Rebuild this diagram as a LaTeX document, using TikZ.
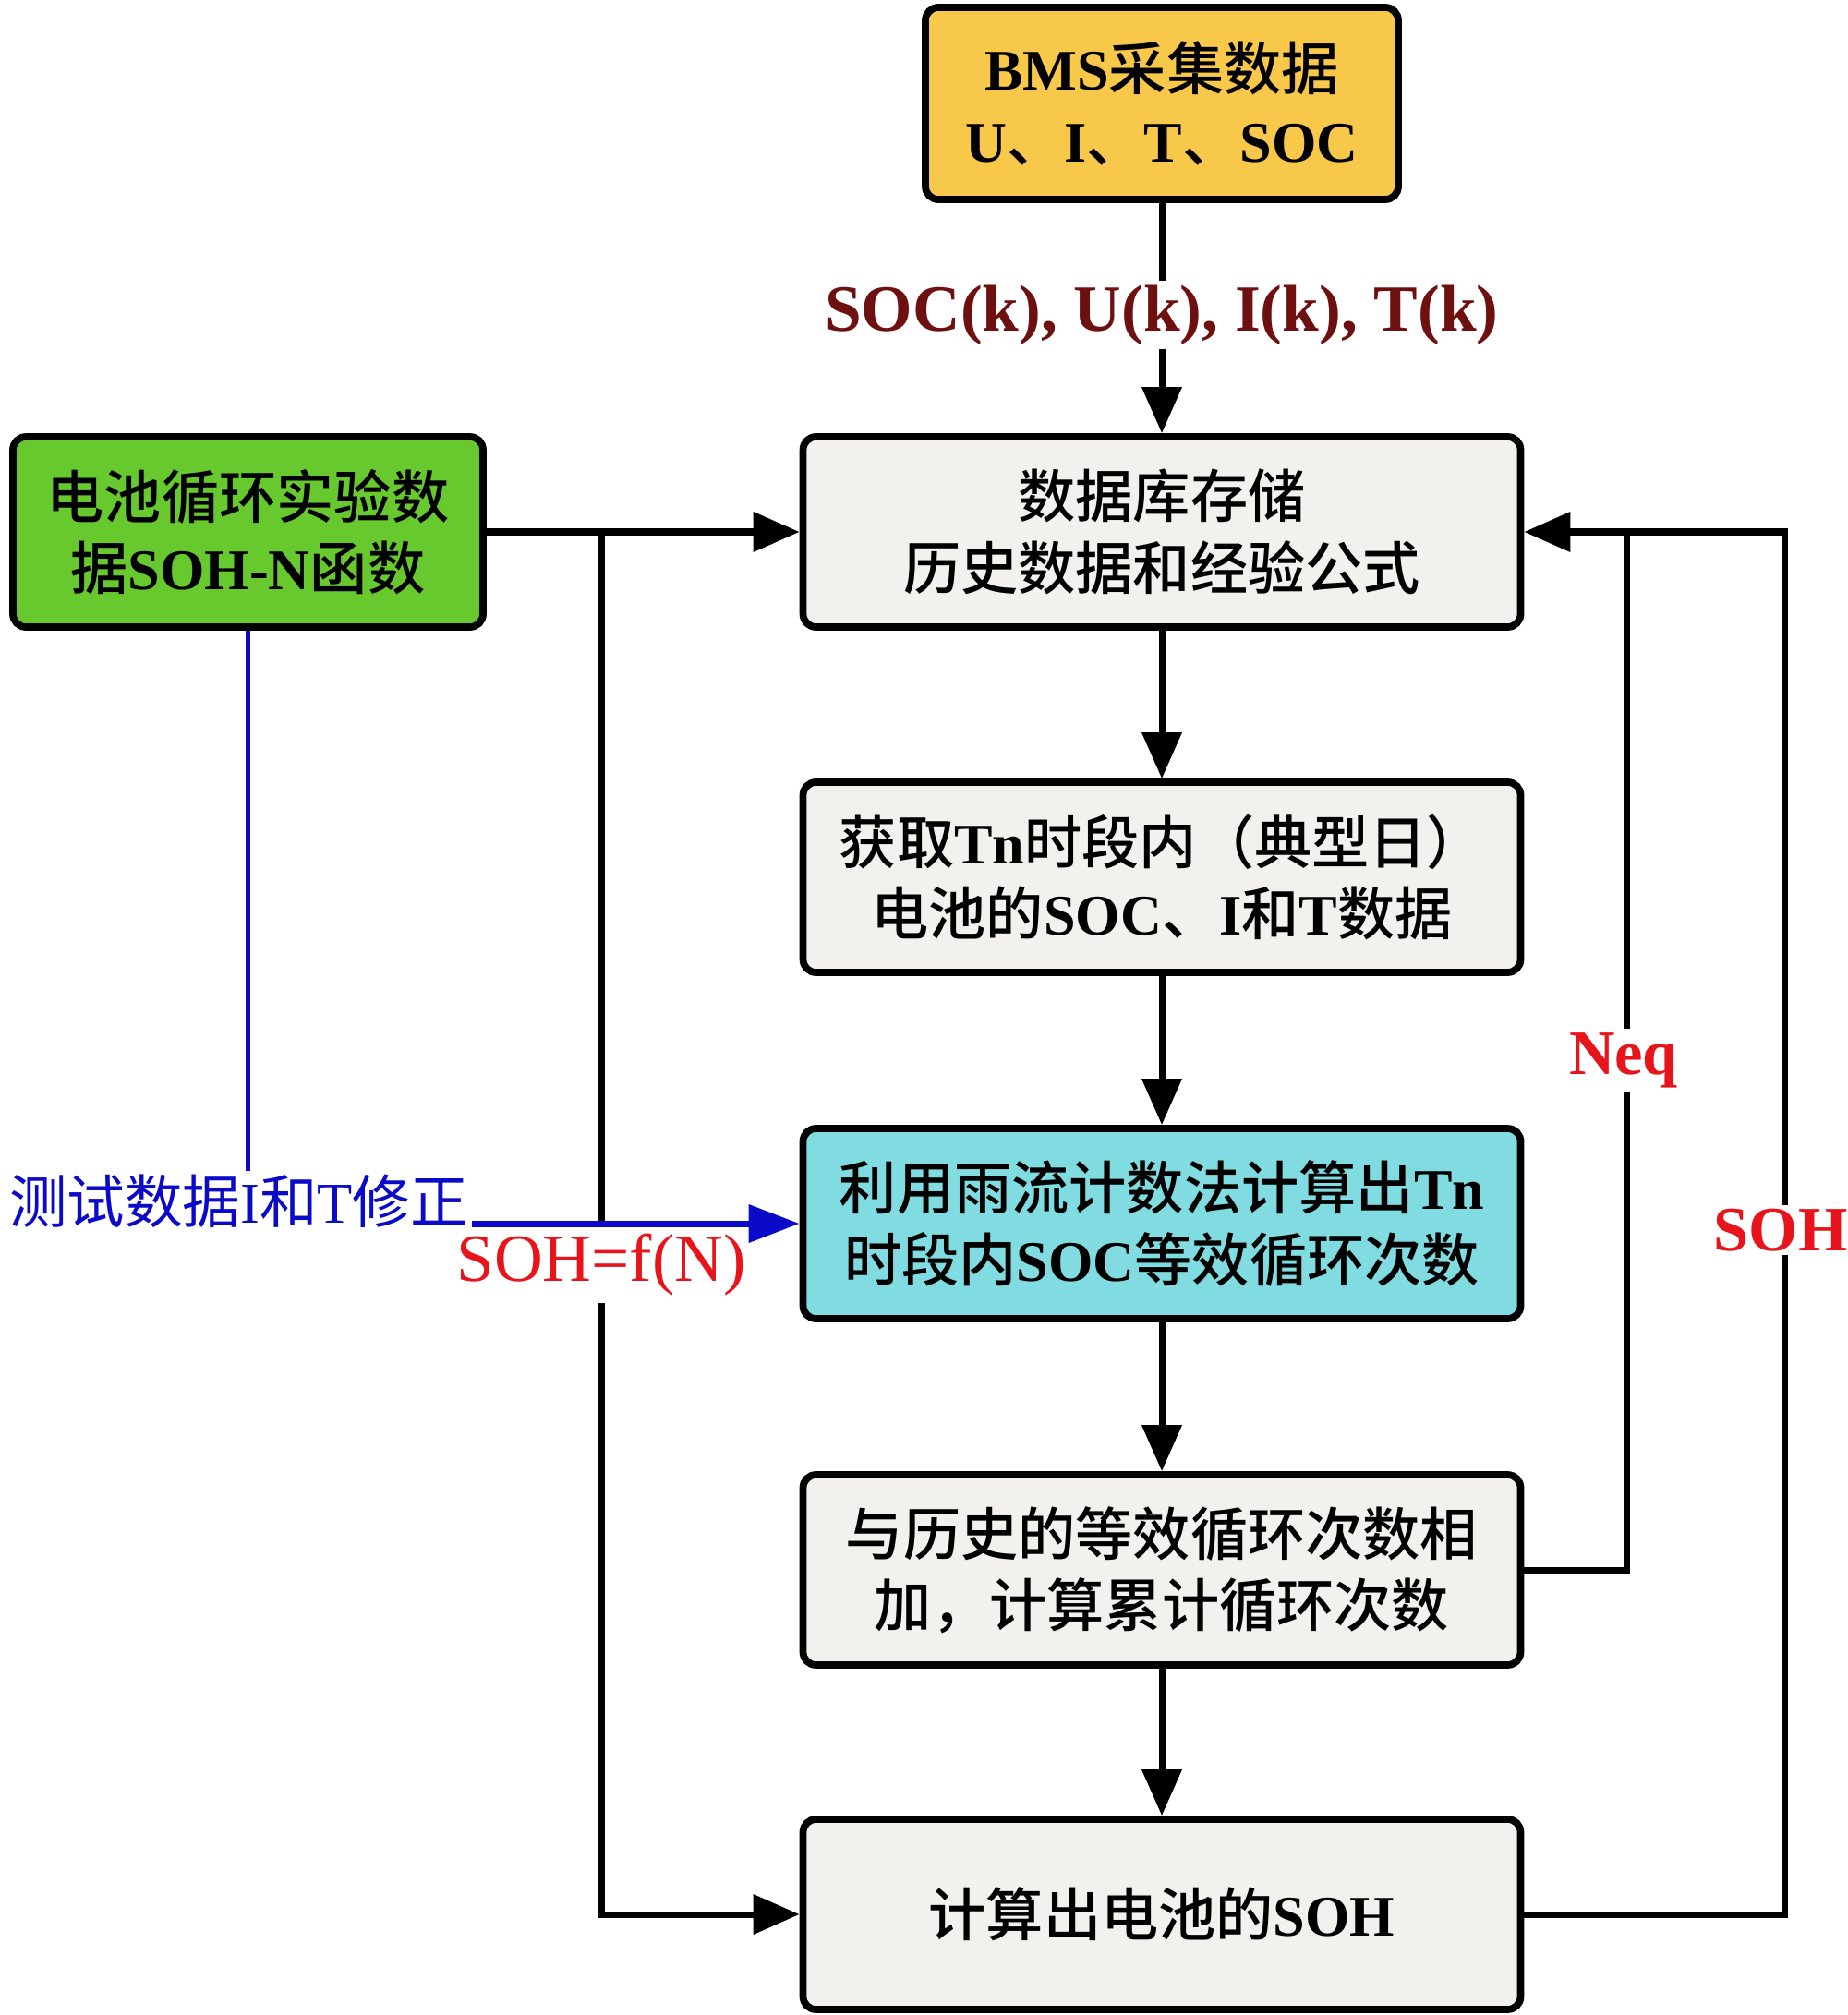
\documentclass[tikz,border=0pt]{standalone}
\usepackage{fontspec}
\setmainfont{Liberation Serif}
\newfontfamily\cjk{Noto Sans CJK SC}[BoldFont={Noto Sans CJK SC Medium}]
\usetikzlibrary{arrows.meta}
\definecolor{boxgold}{RGB}{248,200,74}
\definecolor{boxgreen}{RGB}{104,201,46}
\definecolor{boxcyan}{RGB}{128,220,224}
\definecolor{boxgray}{RGB}{243,241,238}
\definecolor{darkred}{RGB}{110,16,16}
\definecolor{labelred}{RGB}{232,20,27}
\definecolor{fixblue}{RGB}{10,10,200}
\newcommand{\zh}[1]{{\cjk #1}}

\begin{document}
\begin{tikzpicture}[
  box/.style={draw,line width=2.2pt,rounded corners=4pt,fill=boxgray,
    minimum width=7.77cm,minimum height=2.06cm,inner sep=0pt,align=center,
    font=\fontsize{17.7}{22}\selectfont\bfseries},
  flow/.style={line width=2pt,-{Triangle[length=0.5cm,width=0.42cm]}},
  link/.style={line width=2pt},
  lbl/.style={inner sep=1pt,text=labelred,font=\fontsize{19.5}{20}\selectfont\bfseries}
]
  \useasboundingbox (0,0) rectangle (20,-21.82);
  % input boxes
  \node[box,fill=boxgold,minimum width=5.12cm,minimum height=2.08cm] (bms) at (12.58,-1.12)
    {BMS\zh{采集数据}\\U\zh{、}I\zh{、}T\zh{、}SOC};
  \node[box,fill=boxgreen,minimum width=5.09cm] (cyc) at (2.685,-5.76)
    {\zh{电池循环实验数}\\\zh{据}SOH-N\zh{函数}};
  % main chain
  \node[box] (db) at (12.58,-5.76) {\zh{数据库存储}\\\zh{历史数据和经验公式}};
  \node[box] (tn) at (12.58,-9.50) {\zh{获取}Tn\zh{时段内（典型日）}\\\zh{电池的}SOC\zh{、}I\zh{和}T\zh{数据}};
  \node[box,fill=boxcyan] (rfc) at (12.58,-13.25) {\zh{利用雨流计数法计算出}Tn\\\zh{时段内}SOC\zh{等效循环次数}};
  \node[box] (acc) at (12.58,-17.00) {\zh{与历史的等效循环次数相}\\\zh{加，计算累计循环次数}};
  \node[box] (calc) at (12.58,-20.73) {\zh{计算出电池的}SOH};
  % labels on connectors
  \node[lbl,text=darkred,font=\fontsize{20.3}{22}\selectfont\bfseries] (meas) at (12.58,-3.41)
    {SOC(k), U(k), I(k), T(k)};
  \node[lbl,font=\fontsize{20.8}{22}\selectfont,inner sep=2pt] (sohf) at (6.51,-13.70) {SOH=f(N)};
  \node[lbl] (neq) at (17.58,-11.48) {Neq};
  \node[lbl] (soh) at (19.28,-13.32) {SOH};
  \node[text=fixblue,inner sep=1pt,font=\fontsize{17.8}{20}\selectfont] (fix) at (2.585,-13.01)
    {\zh{测试数据}I\zh{和}T\zh{修正}};
  \coordinate (j1) at (6.51,-5.76);
  \coordinate (fbL) at (17.61,-5.76);
  % connectors
  \draw[link] (bms) -- (meas);
  \draw[flow] (meas) -- (db);
  \draw[flow] (cyc) -- (db);
  \draw[flow] (db) -- (tn);
  \draw[flow] (tn) -- (rfc);
  \draw[flow] (rfc) -- (acc);
  \draw[flow] (acc) -- (calc);
  \draw[link] (j1) -- (sohf.north);
  \draw[flow] (sohf.south) |- (calc.west);
  \draw[link] (acc.east) -| (fbL |- neq.south);
  \draw[flow] (fbL |- neq.north) |- (db.east);
  \draw[link] (calc.east) -| (19.32,-20.73 |- soh.south);
  \draw[link] (19.32,-20.73 |- soh.north) |- (fbL);
  % blue correction path
  \draw[fixblue,line width=1.6pt] (cyc.south) -- (cyc.south |- fix.north);
  \draw[fixblue,line width=2pt,-{Triangle[length=0.55cm,width=0.4cm]}] (fix.east |- rfc.west) -- (rfc.west);
\end{tikzpicture}
\end{document}
